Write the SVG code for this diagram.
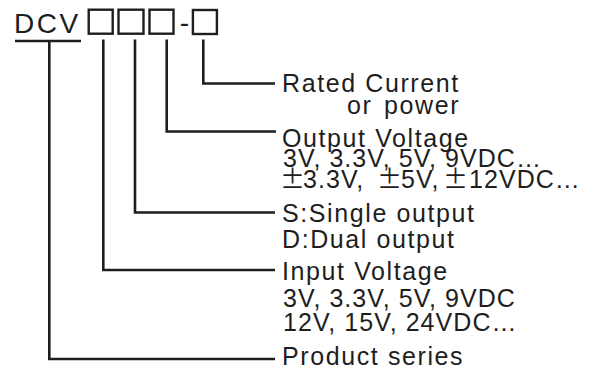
<svg xmlns="http://www.w3.org/2000/svg" width="600" height="372" viewBox="0 0 600 372">
<style>
.t{font-family:"Liberation Sans",Arial,sans-serif;font-size:25px;fill:#1e1e1e;letter-spacing:1.6px}
.n{letter-spacing:1.05px}
.big{font-family:"Liberation Sans",Arial,sans-serif;font-size:28px;fill:#1e1e1e;letter-spacing:2.5px}
.box{fill:none;stroke:#1e1e1e;stroke-width:2.4}
.ln{fill:none;stroke:#1e1e1e;stroke-width:2.6}
.pm{font-family:"Noto Sans CJK SC","Liberation Sans",sans-serif;letter-spacing:0}
</style>
<rect width="600" height="372" fill="#fff"/>
<g id="code">
<text class="big" x="14" y="32.5">DCV</text>
<line class="ln" x1="15" y1="41" x2="81" y2="41"/>
<rect class="box" x="88.7" y="9.7" width="24" height="24"/>
<rect class="box" x="118.5" y="9.7" width="25" height="24"/>
<rect class="box" x="149.5" y="9.7" width="24" height="24"/>
<text class="big" x="184.5" y="32" text-anchor="middle" style="letter-spacing:0">-</text>
<rect class="box" x="192.9" y="10" width="24" height="24"/>
</g>
<g id="connectors">
<polyline class="ln" points="49.3,41 49.3,359 275,359"/>
<polyline class="ln" points="103.3,39.5 103.3,270 275,270"/>
<polyline class="ln" points="135,39.5 135,212.5 275,212.5"/>
<polyline class="ln" points="166.7,39.5 166.7,131.5 276,131.5"/>
<polyline class="ln" points="203.3,39.5 203.3,83.5 275,83.5"/>
</g>
<g id="rated">
<text class="t" x="282" y="91.5">Rated Current</text>
<text class="t" x="347" y="114" style="word-spacing:3px">or power</text>
</g>
<g id="output">
<text class="t" x="282" y="146.5">Output Voltage</text>
<text class="t n" x="283" y="167">3V, 3.3V, 5V, 9VDC…</text>
<text class="t n" y="187.5"><tspan class="pm" x="280">±</tspan><tspan x="303">3.3V,</tspan><tspan class="pm" x="377">±</tspan><tspan x="401">5V,</tspan><tspan class="pm" x="443">±</tspan><tspan x="469">12VDC…</tspan></text>
</g>
<g id="type">
<text class="t" x="282" y="222">S:Single output</text>
<text class="t" x="282" y="248">D:Dual output</text>
</g>
<g id="input">
<text class="t" x="282" y="280">Input Voltage</text>
<text class="t n" x="283" y="307">3V, 3.3V, 5V, 9VDC</text>
<text class="t n" x="283" y="331">12V, 15V, 24VDC…</text>
</g>
<g id="series">
<text class="t" x="282" y="365">Product series</text>
</g>
</svg>
